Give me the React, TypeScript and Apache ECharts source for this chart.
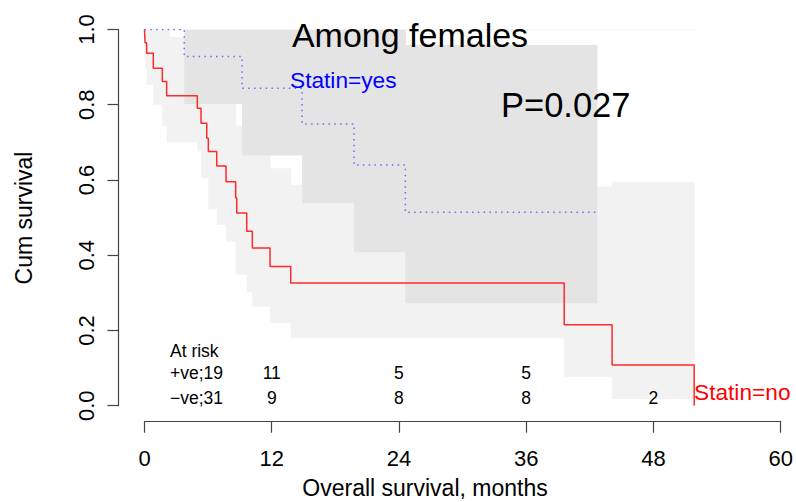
import React, { useEffect, useRef } from "react";
import * as echarts from "echarts";

// Statin = no (red, solid) Kaplan-Meier steps
const redTimes = [0, 0.05, 0.2, 0.83, 1.68, 2.09, 4.98, 5.33, 5.87, 6.02, 6.81, 7.69, 8.6, 8.7, 9.64, 10.17, 11.84, 13.79, 39.58, 44.1, 51.84];
const redSurv = [1, 0.965, 0.937, 0.897, 0.862, 0.824, 0.791, 0.751, 0.711, 0.676, 0.637, 0.595, 0.553, 0.512, 0.464, 0.419, 0.37, 0.326, 0.215, 0.108, 0];

// Statin = yes (blue, dotted)
const blueTimes = [0, 3.75, 9.2, 14.86, 19.76, 24.6, 42.6];
const blueSurv = [1, 0.928, 0.844, 0.749, 0.64, 0.514, 0.514];

// Confidence band, Statin = no (light grey)
const redCiStart = [0.05, 0.2, 0.83, 1.68, 2.09, 2.34, 4.98, 5.33, 5.87, 6.02, 6.81, 7.69, 8.6, 9.64, 10.17, 11.84, 13.79, 39.58, 44.1];
const redCiEnd = [0.2, 0.83, 1.68, 2.09, 2.34, 4.98, 5.33, 5.87, 6.02, 6.81, 7.69, 8.6, 9.64, 10.17, 11.84, 13.79, 39.58, 44.1, 51.84];
const redCiLower = [0.9, 0.853, 0.8, 0.744, 0.7, 0.7, 0.676, 0.605, 0.605, 0.522, 0.481, 0.436, 0.348, 0.303, 0.263, 0.219, 0.179, 0.077, 0.018];
const redCiUpper = [1, 1, 1, 1, 1, 0.98, 0.96, 0.94, 0.92, 0.9, 0.88, 0.85, 0.744, 0.7, 0.67, 0.631, 0.587, 0.583, 0.595];

// Confidence band, Statin = yes (darker grey)
const blueCiStart = [3.75, 9.2, 14.86, 19.76, 24.6];
const blueCiEnd = [9.2, 14.86, 19.76, 24.6, 42.66];
const blueCiLower = [0.802, 0.665, 0.538, 0.408, 0.272];
const blueCiUpper = [1, 1, 1, 1, 0.959];

// At-risk table
const riskTimes = [12, 24, 36, 48];
const riskPos: (number | null)[] = [11, 5, 5, null];
const riskNeg = [9, 8, 8, 2];
const rowPosY = 0.088;
const rowNegY = 0.0205;

const xTicks = [0, 12, 24, 36, 48, 60];

const FF = "'Liberation Sans', Arial, Helvetica, sans-serif";

function bandData(s: number[], e: number[], lo: number[], hi: number[]) {
  return s.map((v, i) => [v, e[i], lo[i], hi[i]]);
}

function bandSeries(data: number[][], fill: string) {
  return {
    type: "custom",
    silent: true,
    data,
    encode: { x: [0, 1], y: [2, 3] },
    renderItem: (params: any, api: any) => {
      const p0 = api.coord([api.value(0), api.value(3)]);
      const p1 = api.coord([api.value(1), api.value(2)]);
      return {
        type: "rect",
        shape: { x: p0[0], y: p0[1], width: p1[0] - p0[0] + 0.5, height: p1[1] - p0[1] },
        style: { fill },
      };
    },
  };
}

export default function App() {
  const ref = useRef<HTMLDivElement>(null);
  useEffect(() => {
    const chart = echarts.init(ref.current!, null, { renderer: "svg" });
    const axisColor = "#444";
    const txt = (text: string, x: number, y: number, fontSize: number, fill: string, align: string, extra: any = {}) => ({
      type: "text",
      x,
      y,
      z: 100,
      silent: true,
      ...extra,
      style: { text, fontSize, fontFamily: FF, fill, align, verticalAlign: "middle" },
    });
    const option: any = {
      animation: false,
      backgroundColor: "#fff",
      grid: { left: 144.5, right: 15.3, top: 29.5, bottom: 96.3 },
      xAxis: {
        type: "value",
        min: 0,
        max: 60,
        interval: 12,
        offset: 16,
        splitLine: { show: false },
        axisLine: { show: true, onZero: false, lineStyle: { color: axisColor, width: 1.2 } },
        axisTick: { show: true, length: 11, lineStyle: { color: axisColor, width: 1.2 } },
        axisLabel: {
          margin: 36.6,
          verticalAlign: "middle",
          fontSize: 22,
          fontFamily: FF,
          color: "#000",
          formatter: (v: number) => (xTicks.includes(v) ? String(v) : ""),
        },
      },
      yAxis: {
        type: "value",
        min: 0,
        max: 1,
        interval: 0.2,
        offset: 26,
        splitLine: { show: false },
        axisLine: { show: true, onZero: false, lineStyle: { color: axisColor, width: 1.2 } },
        axisTick: { show: true, length: 11, lineStyle: { color: axisColor, width: 1.2 } },
        axisLabel: {
          rotate: 90,
          margin: 32,
          align: "center",
          verticalAlign: "middle",
          fontSize: 22,
          fontFamily: FF,
          color: "#000",
          formatter: (v: number) => v.toFixed(1),
        },
      },
      series: [
        bandSeries(bandData(redCiStart, redCiEnd, redCiLower, redCiUpper), "#f2f2f2"),
        {
          type: "line",
          silent: true,
          symbol: "none",
          data: [[redCiStart[0], 1], [redCiEnd[redCiEnd.length - 1], 1]],
          lineStyle: { color: "#f4f4f4", width: 1 },
        },
        bandSeries(bandData(blueCiStart, blueCiEnd, blueCiLower, blueCiUpper), "#e4e4e4"),
        {
          type: "line",
          silent: true,
          step: "end",
          symbol: "none",
          data: blueTimes.map((t, i) => [t, blueSurv[i]]),
          lineStyle: { color: "#6b6bff", width: 1.5, type: [1.5, 4.3] },
        },
        {
          type: "line",
          silent: true,
          step: "end",
          symbol: "none",
          data: redTimes.map((t, i) => [t, redSurv[i]]),
          lineStyle: { color: "#ff2a2a", width: 1.5 },
        },
        {
          type: "scatter",
          silent: true,
          symbolSize: 1,
          itemStyle: { color: "rgba(0,0,0,0)", opacity: 1 },
          data: [
            ...riskTimes.map((t, i) => [t, rowPosY, riskPos[i]]).filter((d) => d[2] !== null),
            ...riskTimes.map((t, i) => [t, rowNegY, riskNeg[i]]),
          ],
          label: {
            show: true,
            position: "inside",
            formatter: (p: any) => String(p.value[2]),
            fontSize: 17.5,
            fontFamily: FF,
            color: "#000",
            opacity: 1,
          },
        },
      ],
      graphic: [
        txt("Among females", 410, 35, 34, "#000", "center"),
        txt("P=0.027", 501, 105, 34.5, "#000", "left"),
        txt("Statin=yes", 290, 80, 22.7, "#0000ff", "left"),
        txt("Statin=no", 694, 391.7, 22.7, "#ff0000", "left"),
        txt("At risk", 170, 351, 17.5, "#000", "left"),
        txt("+ve;19", 170, 372.5, 17.5, "#000", "left"),
        txt("\u2212ve;31", 170, 398, 17.5, "#000", "left"),
        txt("Overall survival, months", 425, 487.5, 23, "#000", "center"),
        txt("Cum survival", 23.5, 218, 23, "#000", "center", { rotation: Math.PI / 2 }),
      ],
    };
    chart.setOption(option);
    return () => chart.dispose();
  }, []);
  return <div ref={ref} style={{ position: "fixed", left: 0, top: 0, width: 796, height: 502, background: "#fff" }} />;
}
